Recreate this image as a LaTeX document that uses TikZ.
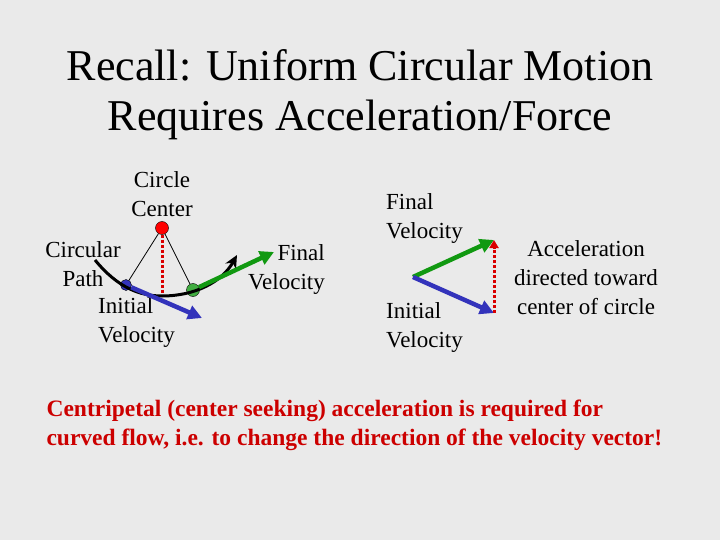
\documentclass[tikz,border=0pt]{standalone}
\usepackage{fontspec}
\setmainfont{Liberation Serif}
\usetikzlibrary{arrows.meta}
\definecolor{bg}{HTML}{EAEAEA}
\definecolor{vgreen}{HTML}{119911}
\definecolor{vblue}{HTML}{3333BB}
\definecolor{txtred}{HTML}{CC0000}
\tikzset{
  lbl/.style={font=\fontsize{23}{29}\selectfont, inner sep=0pt, align=center},
  vec/.style={line width=4.5pt, -{Triangle[length=14pt,width=14pt]}},
  acc/.style={draw=red!85!black, line width=3pt, dash pattern=on 3pt off 2pt},
  dot/.style={circle, draw=black, inner sep=0pt, minimum size=13pt}
}
\begin{document}
\begin{tikzpicture}[x=1pt,y=-1pt]
  \fill[bg] (0,0) rectangle (720,540);
  \useasboundingbox (0,0) rectangle (720,540);
  % title
  \node[font=\fontsize{44}{50}\selectfont, align=center] (title) at (360,95)
    {Recall: Uniform Circular Motion\\Requires Acceleration/Force};
  % left: path on circle
  \node[lbl] (cc) at (162,194) {Circle\\Center};
  \node[lbl] (cp) at (83,264) {Circular\\Path};
  \node[lbl, align=left, anchor=west] (iv) at (98,323) {Initial\\Velocity};
  \node[lbl, align=right, anchor=east] (fv) at (325,270) {Final\\Velocity};
  \coordinate (bot) at (162,296);
  \coordinate (pstart) at (95,260);
  \coordinate (pend) at (237,255);
  \coordinate (ivend) at (202,318);
  \coordinate (fvend) at (274,252);
  \node[dot, fill=red] (ctr) at (162,228) {};
  \node[dot, fill=vblue, minimum size=11pt] (p1) at (126,285) {};
  \node[dot, fill=vgreen!80] (p2) at (193,290) {};
  \draw[thick] (ctr) -- (p1);
  \draw[thick] (ctr) -- (p2);
  \draw[acc] (ctr) -- (bot);
  \draw[line width=3pt, -{Stealth[length=13pt,width=12pt]}]
    (pstart) .. controls (118,288) and (140,296) .. (bot)
    .. controls (195,296) and (222,282) .. (pend);
  \draw[vec, vblue] (p1) -- (ivend);
  \draw[vec, vgreen] (p2) -- (fvend);
  % right: vector difference
  \node[lbl, align=left, anchor=west] (fv2) at (386,219) {Final\\Velocity};
  \node[lbl, align=left, anchor=west] (iv2) at (386,328) {Initial\\Velocity};
  \node[lbl] (acctxt) at (586,278) {Acceleration\\directed toward\\center of circle};
  \coordinate (o) at (413,277);
  \coordinate (ftip) at (494,240);
  \coordinate (itip) at (494,313);
  \draw[vec, vgreen] (o) -- (ftip);
  \draw[vec, vblue] (o) -- (itip);
  \draw[acc, -{Triangle[length=8pt,width=9pt]}] (itip) -- (ftip);
  % conclusion
  \node[font=\bfseries\fontsize{23.5}{29}\selectfont, text=txtred, align=left, anchor=west] (concl) at (43,425)
    {Centripetal (center seeking) acceleration is required for\\curved flow, i.e. to change the direction of the velocity vector!};
\end{tikzpicture}
\end{document}
